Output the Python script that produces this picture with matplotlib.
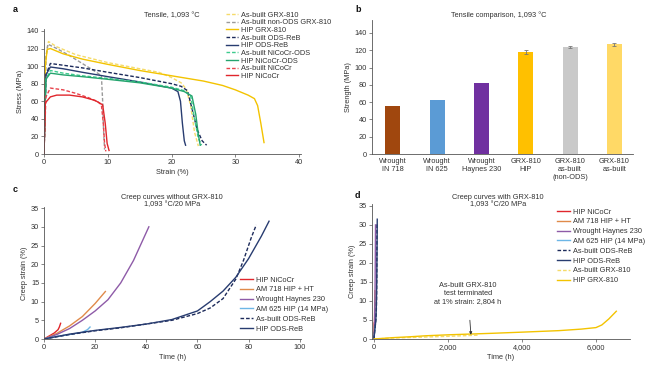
import matplotlib
matplotlib.use("Agg")
import matplotlib.pyplot as plt

plt.rcParams['font.family'] = ['Liberation Sans', 'DejaVu Sans']
plt.rcParams['font.size'] = 5.3
TXT = '#333333'
plt.rcParams['text.color'] = TXT
plt.rcParams['axes.labelcolor'] = TXT
plt.rcParams['xtick.color'] = '#555555'
plt.rcParams['ytick.color'] = '#555555'
plt.rcParams['xtick.labelcolor'] = TXT
plt.rcParams['ytick.labelcolor'] = TXT

# ---------------- Panel a: tensile curves ----------------
ab_grx_strain = [0, 0.3, 0.7, 2, 5, 10, 15, 18, 20, 21.5, 22.3, 23, 23.6, 24.2]
ab_grx_stress = [0, 110, 128, 122, 113, 104, 97, 93, 87, 81, 74, 55, 25, 9]
nonods_strain = [0, 0.3, 0.6, 2, 4, 6, 8, 9.0, 9.2, 9.35, 9.5]
nonods_stress = [0, 110, 125, 120, 112, 103, 94, 89, 60, 25, 5]
hip_grx_strain = [0, 0.2, 0.5, 1, 3, 6, 10, 15, 20, 25, 28, 30, 32, 33, 33.5, 34, 34.5]
hip_grx_stress = [0, 100, 119, 120, 114, 108, 102, 95, 89, 83, 78, 73, 67, 63, 55, 35, 13]
ab_reb_strain = [0, 0.3, 1, 3, 6, 10, 15, 20, 21.5, 22.5, 23.2, 24, 24.8, 25.5]
ab_reb_stress = [0, 90, 103, 101, 98, 93, 87, 80, 77, 72, 52, 28, 15, 10]
hip_reb_strain = [0, 0.3, 1, 3, 6, 10, 15, 20, 21, 21.4, 21.7, 22, 22.2]
hip_reb_stress = [0, 90, 99, 97, 93, 88, 82, 75, 71, 60, 35, 15, 10]
ab_nods_strain = [0, 0.3, 1, 3, 6, 10, 15, 20, 22, 23, 23.6, 24.2, 24.7]
ab_nods_stress = [0, 85, 95, 92, 89, 86, 82, 76, 72, 66, 40, 18, 10]
hip_nods_strain = [0, 0.3, 1, 3, 6, 10, 15, 20, 22, 23.2, 23.8, 24.2, 24.5]
hip_nods_stress = [0, 85, 92, 90, 88, 85, 81, 75, 71, 66, 45, 22, 10]
ab_ncc_strain = [0, 0.3, 1, 3, 5, 7, 8.5, 9.0, 9.3, 9.5, 9.7]
ab_ncc_stress = [0, 65, 75, 73, 69, 64, 59, 56, 35, 12, 3]
hip_ncc_strain = [0, 0.2, 1, 2, 4, 6, 8, 9.2, 9.6, 9.9, 10.2]
hip_ncc_stress = [0, 58, 65, 67, 67, 65, 61, 56, 35, 12, 4]

# ---------------- Panel b: strength bars ----------------
bar_labels = ['Wrought\nIN 718', 'Wrought\nIN 625', 'Wrought\nHaynes 230',
              'GRX-810\nHIP', 'GRX-810\nas-built\n(non-ODS)', 'GRX-810\nas-built']
bar_values = [55, 62, 82.5, 118, 123.5, 127]
bar_errors = [0, 0, 0, 2, 1, 1.5]
bar_colors = ['#A0470E', '#5B9BD5', '#7030A0', '#FFC000', '#C9C9C9', '#FFD966']

# ---------------- Panel c/d: creep curves ----------------
ncc_t = [0, 2, 4, 5.5, 6, 6.5]
ncc_e = [0, 0.8, 1.6, 2.5, 3.2, 4.2]
am718_t = [0, 5, 10, 15, 20, 24]
am718_e = [0, 1.5, 3.5, 6, 9.5, 12.7]
haynes_t = [0, 5, 10, 15, 20, 25, 30, 35, 38, 41]
haynes_e = [0, 1.2, 2.8, 5, 7.5, 10.5, 15, 21, 25.5, 30]
am625_t = [0, 5, 10, 15, 17, 18]
am625_e = [0, 0.7, 1.2, 1.8, 2.5, 3.2]
ab_reb_t = [0, 10, 20, 30, 40, 50, 60, 65, 70, 75, 78, 81, 83]
ab_reb_e = [0, 1.2, 2.2, 3.0, 4.0, 5.0, 6.8, 8.3, 10.8, 16, 21, 27, 30.5]
hip_reb_t = [0, 10, 20, 30, 40, 50, 60, 65, 70, 75, 80, 85, 88]
hip_reb_e = [0, 1.3, 2.3, 3.1, 4.0, 5.2, 7.5, 10, 12.8, 16.5, 21.5, 27.5, 31.5]
ab_grx_t = [0, 500, 1000, 2000, 2804]
ab_grx_e = [0, 0.25, 0.4, 0.7, 1.0]
hip_grx_t = [0, 500, 1000, 1400, 2000, 3200, 4000, 5000, 5600, 6000, 6160, 6350, 6550]
hip_grx_e = [0, 0.35, 0.6, 0.85, 1.1, 1.5, 1.8, 2.2, 2.6, 3.0, 3.7, 5.3, 7.3]

# colours / styles
C_YEL = '#F3C300'
C_YEL_L = '#F5DB6A'
C_GRAY = '#9A9A9A'
C_NAVY_D = '#1C2A5A'
C_NAVY = '#283C70'
C_GRN_D = '#3DCB8E'
C_GRN = '#25A46E'
C_RED_D = '#E8424B'
C_RED = '#E0262C'
C_ORG = '#E08A4A'
C_PUR = '#8E5BA8'
C_LBLUE = '#6CB6E6'
DASH = (0, (2.6, 1.4))
LW = 1.0

W, H = 650, 372
fig = plt.figure(figsize=(6.5, 3.72), dpi=100)


def px_axes(x0, y0, x1, y1):
    return fig.add_axes([x0 / W, 1 - y1 / H, (x1 - x0) / W, (y1 - y0) / H])


def style(ax):
    for s in ['top', 'right']:
        ax.spines[s].set_visible(False)
    for s in ['left', 'bottom']:
        ax.spines[s].set_linewidth(0.6)
        ax.spines[s].set_color('#555555')
    ax.tick_params(direction='out', length=2, width=0.5, pad=1.5, labelsize=5.3)


# ---- a ----
axa = px_axes(44, 29.2, 301, 154)
style(axa)
axa.plot(ab_grx_strain, ab_grx_stress, color=C_YEL_L, ls=DASH, lw=LW, label='As-built GRX-810')
axa.plot(nonods_strain, nonods_stress, color=C_GRAY, ls=DASH, lw=LW, label='As-built non-ODS GRX-810')
axa.plot(hip_grx_strain, hip_grx_stress, color=C_YEL, lw=LW, label='HIP GRX-810')
axa.plot(ab_reb_strain, ab_reb_stress, color=C_NAVY_D, ls=DASH, lw=LW, label='As-built ODS-ReB')
axa.plot(hip_reb_strain, hip_reb_stress, color=C_NAVY, lw=LW, label='HIP ODS-ReB')
axa.plot(ab_nods_strain, ab_nods_stress, color=C_GRN_D, ls=DASH, lw=LW, label='As-built NiCoCr-ODS')
axa.plot(hip_nods_strain, hip_nods_stress, color=C_GRN, lw=LW, label='HIP NiCoCr-ODS')
axa.plot(ab_ncc_strain, ab_ncc_stress, color=C_RED_D, ls=DASH, lw=LW, label='As-built NiCoCr')
axa.plot(hip_ncc_strain, hip_ncc_stress, color=C_RED, lw=LW, label='HIP NiCoCr')
axa.set_xlim(0, 40.3)
axa.set_ylim(0, 142)
axa.set_xticks([0, 10, 20, 30, 40])
axa.set_yticks(range(0, 141, 20))
axa.set_xlabel('Strain (%)', labelpad=2)
axa.set_ylabel('Stress (MPa)', labelpad=2)
axa.legend(loc='upper left', bbox_to_anchor=(226 / W, 1 - 11.5 / H), bbox_transform=fig.transFigure,
           frameon=False, fontsize=5.3, borderpad=0, borderaxespad=0, labelspacing=0.07,
           handlelength=1.6, handletextpad=0.4)
fig.text(172 / W, 1 - 16 / H, 'Tensile, 1,093 °C', ha='center', va='center', fontsize=5.3)

# ---- b ----
axb = px_axes(372, 20, 633, 154)
style(axb)
xpos = list(range(len(bar_values)))
axb.bar(xpos, bar_values, width=0.34, color=bar_colors)
for i in range(len(bar_values)):
    if bar_errors[i] > 0:
        axb.errorbar(xpos[i], bar_values[i], yerr=bar_errors[i], color='#777777', lw=0.6,
                     capsize=1.2, capthick=0.6)
axb.set_xlim(-0.47, 5.42)
axb.set_ylim(0, 155)
axb.set_yticks(range(0, 141, 20))
axb.set_xticks(xpos)
axb.set_xticklabels(bar_labels)
axb.tick_params(axis='x', length=0, pad=3)
axb.set_ylabel('Strength (MPa)', labelpad=2)
fig.text(499 / W, 1 - 15 / H, 'Tensile comparison, 1,093 °C', ha='center', va='center', fontsize=5.3)

# ---- c ----
axc = px_axes(44, 207, 301, 339)
style(axc)
axc.plot(ncc_t, ncc_e, color=C_RED, lw=LW, label='HIP NiCoCr')
axc.plot(am718_t, am718_e, color=C_ORG, lw=LW, label='AM 718 HIP + HT')
axc.plot(haynes_t, haynes_e, color=C_PUR, lw=LW, label='Wrought Haynes 230')
axc.plot(am625_t, am625_e, color=C_LBLUE, lw=LW, label='AM 625 HIP (14 MPa)')
axc.plot(ab_reb_t, ab_reb_e, color=C_NAVY_D, ls=DASH, lw=LW, label='As-built ODS-ReB')
axc.plot(hip_reb_t, hip_reb_e, color=C_NAVY, lw=LW, label='HIP ODS-ReB')
axc.set_xlim(0, 100.5)
axc.set_ylim(0, 35.3)
axc.set_xticks(range(0, 101, 20))
axc.set_yticks(range(0, 36, 5))
axc.set_xlabel('Time (h)', labelpad=2)
axc.set_ylabel('Creep strain (%)', labelpad=2)
axc.legend(loc='upper left', bbox_to_anchor=(240 / W, 1 - 276.5 / H), bbox_transform=fig.transFigure,
           frameon=False, fontsize=5.3, borderpad=0, borderaxespad=0, labelspacing=0.36,
           handlelength=1.8, handletextpad=0.4)
fig.text(172 / W, 1 - 201 / H, 'Creep curves without GRX-810\n1,093 °C/20 MPa', ha='center',
         va='center', fontsize=5.3, linespacing=1.05)

# ---- d ----
axd = px_axes(372, 204, 630, 339)
style(axd)
axd.plot(ncc_t, ncc_e, color=C_RED, lw=LW, label='HIP NiCoCr')
axd.plot(am718_t, am718_e, color=C_ORG, lw=LW, label='AM 718 HIP + HT')
axd.plot(haynes_t, haynes_e, color=C_PUR, lw=LW, label='Wrought Haynes 230')
axd.plot(am625_t, am625_e, color=C_LBLUE, lw=LW, label='AM 625 HIP (14 MPa)')
axd.plot(ab_reb_t, ab_reb_e, color=C_NAVY_D, ls=DASH, lw=LW, label='As-built ODS-ReB')
axd.plot(hip_reb_t, hip_reb_e, color=C_NAVY, lw=LW, label='HIP ODS-ReB')
axd.plot(ab_grx_t, ab_grx_e, color=C_YEL_L, ls=DASH, lw=LW, label='As-built GRX-810')
axd.plot(hip_grx_t, hip_grx_e, color=C_YEL, lw=LW, label='HIP GRX-810')
axd.set_xlim(-54, 6920)
axd.set_ylim(0, 35.5)
axd.set_xticks([0, 2000, 4000, 6000])
axd.set_xticklabels(['0', '2,000', '4,000', '6,000'])
axd.set_yticks(range(0, 36, 5))
axd.set_xlabel('Time (h)', labelpad=2)
axd.set_ylabel('Creep strain (%)', labelpad=2)
axd.legend(loc='upper left', bbox_to_anchor=(557 / W, 1 - 208.5 / H), bbox_transform=fig.transFigure,
           frameon=False, fontsize=5.3, borderpad=0, borderaxespad=0, labelspacing=0.36,
           handlelength=1.8, handletextpad=0.4)
fig.text(498 / W, 1 - 201 / H, 'Creep curves with GRX-810\n1,093 °C/20 MPa', ha='center',
         va='center', fontsize=5.3, linespacing=1.05)
axd.annotate('As-built GRX-810\ntest terminated\nat 1% strain: 2,804 h',
             xy=(2620, 1.1), xytext=(2540, 11.9), ha='center', va='center', fontsize=5.3,
             linespacing=1.15,
             arrowprops=dict(arrowstyle='-|>', color='#333333', lw=0.6, mutation_scale=4,
                             shrinkA=9, shrinkB=0))

# panel letters
for lbl, (x, y) in zip('abcd', [(15, 10), (358, 10), (15, 190), (357, 196)]):
    fig.text(x / W, 1 - y / H, lbl, fontsize=6.5, fontweight='bold', color='#111111',
             ha='center', va='center')

fig.savefig('out.png', dpi=100)
